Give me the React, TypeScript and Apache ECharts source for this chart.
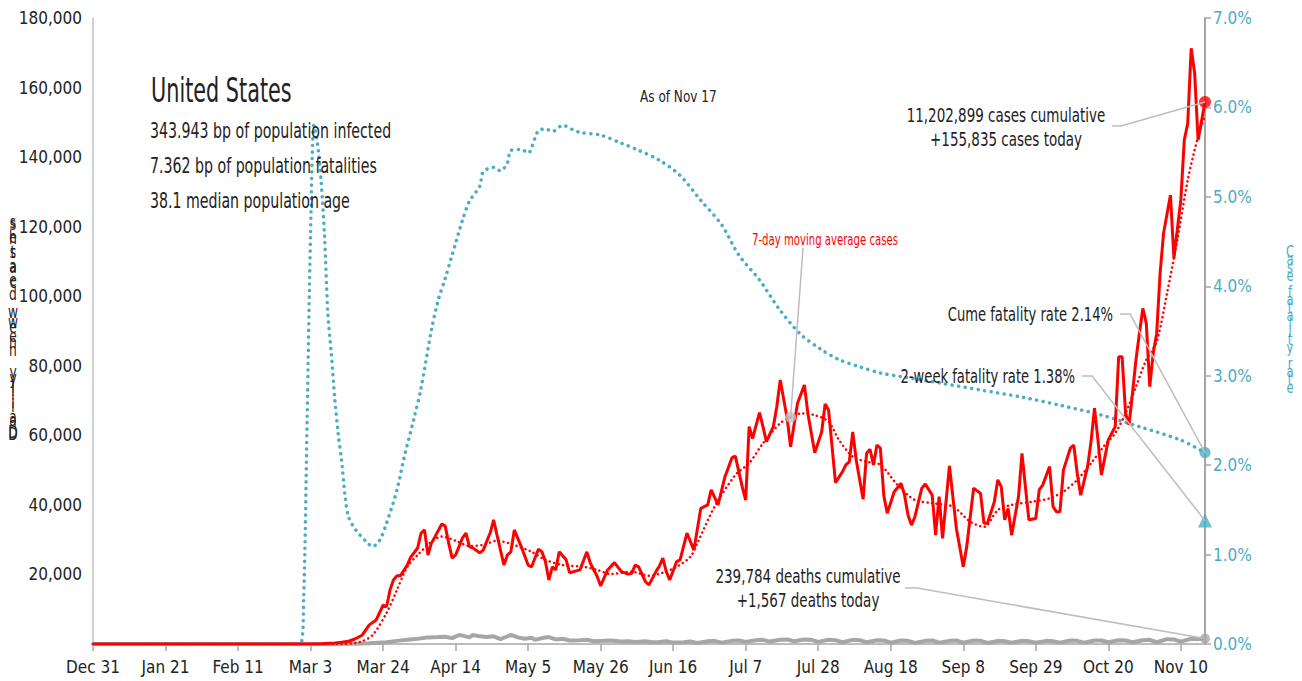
import { useEffect, useRef } from 'react';
import * as echarts from 'echarts';

const FONT = "'Liberation Sans Narrow','DejaVu Sans Condensed','Roboto Condensed','Liberation Sans',sans-serif";

const tickDays = [0, 21, 42, 63, 84, 105, 126, 147, 168, 189, 210, 231, 252, 273, 294, 315];
const tickLabels = ['Dec 31', 'Jan 21', 'Feb 11', 'Mar 3', 'Mar 24', 'Apr 14', 'May 5', 'May 26', 'Jun 16', 'Jul 7', 'Jul 28', 'Aug 18', 'Sep 8', 'Sep 29', 'Oct 20', 'Nov 10'];

// days since Dec 31 -> daily new cases
const caseDays = [0, 60, 66, 70, 72, 74, 76, 78, 80, 82, 84, 85, 86, 87, 88, 89, 91, 92, 94, 95, 96, 97, 98, 99, 101, 102, 103, 104, 105, 107, 108, 109, 110, 112, 113, 115, 116, 117, 119, 120, 121, 122, 124, 126, 127, 129, 130, 131, 132, 133, 134, 135, 137, 138, 141, 143, 144, 146, 147, 149, 151, 153, 155, 156, 157, 158, 160, 161, 163, 164, 165, 166, 167, 169, 170, 172, 174, 176, 178, 179, 181, 183, 185, 186, 188, 189, 190, 191, 193, 194, 195, 197, 198, 199, 201, 202, 204, 206, 207, 209, 211, 212, 213, 215, 217, 218, 219, 220, 221, 223, 224, 225, 226, 227, 228, 229, 230, 232, 234, 235, 236, 237, 238, 240, 241, 243, 244, 245, 246, 248, 250, 252, 253, 255, 257, 258, 259, 261, 262, 263, 264, 265, 266, 268, 269, 270, 271, 273, 274, 275, 277, 278, 279, 280, 281, 283, 284, 285, 286, 288, 289, 290, 291, 292, 294, 295, 296, 297, 298, 299, 300, 301, 302, 303, 304, 305, 306, 307, 308, 309, 310, 312, 313, 315, 316, 317, 318, 319, 320, 322];
const caseValues = [0, 0, 100, 300, 500, 800, 1500, 2600, 5500, 6900, 11200, 10700, 15500, 18400, 19600, 19600, 22700, 25000, 27600, 31900, 32800, 25600, 29000, 30800, 34500, 33900, 29000, 24700, 25600, 30500, 31900, 28000, 27600, 26200, 27000, 31900, 35700, 31300, 22700, 25600, 26500, 32800, 28000, 22700, 22200, 27300, 26500, 23700, 18400, 22200, 21300, 26500, 24200, 20500, 21300, 26500, 23300, 19400, 16700, 21300, 23400, 20800, 20100, 20300, 22700, 22200, 17900, 17000, 20800, 22400, 24700, 20800, 18400, 23700, 24200, 31900, 27000, 39000, 40000, 44300, 40000, 48100, 53500, 54000, 45200, 41400, 62500, 59100, 66500, 62500, 58200, 62500, 68200, 75900, 64900, 56700, 69200, 74500, 66300, 55000, 61000, 69000, 67300, 46400, 49500, 51500, 52400, 61000, 52900, 41600, 54800, 56000, 51500, 57200, 56300, 42600, 37600, 43800, 46200, 42800, 37100, 34200, 36600, 44800, 46000, 42800, 31300, 42400, 30400, 51200, 33300, 22200, 28000, 44800, 43300, 34700, 34700, 40900, 47200, 45200, 35700, 39000, 31300, 42400, 54800, 45200, 35700, 36100, 44300, 45700, 51000, 39500, 38000, 38000, 50000, 56300, 57200, 49100, 42800, 51000, 58200, 67800, 58700, 48600, 58700, 60600, 62500, 82600, 82600, 66300, 63000, 72100, 81700, 89300, 96500, 92200, 74000, 83600, 89300, 106600, 118100, 129100, 110900, 127700, 144900, 149700, 171300, 164100, 144900, 155835];

// 7-day moving average of cases
const maDays = [0, 72, 76, 78, 81, 85, 88, 91, 94, 98, 101, 105, 109, 113, 117, 121, 127, 131, 136, 142, 146, 150, 156, 161, 165, 169, 173, 175, 180, 186, 190, 194, 199, 202, 205, 209, 213, 216, 220, 224, 228, 233, 238, 243, 249, 254, 258, 262, 266, 272, 277, 281, 285, 289, 293, 296, 299, 302, 305, 308, 311, 314, 317, 320, 322];
const maValues = [0, 0, 300, 800, 2600, 8900, 15500, 22200, 25600, 29400, 30900, 29700, 28200, 28500, 29700, 28800, 26500, 24200, 22700, 22200, 21300, 20100, 20800, 19600, 20500, 22200, 25100, 29000, 39500, 48600, 52000, 57700, 63500, 65200, 66300, 65800, 63900, 58700, 53900, 52400, 51500, 45700, 41400, 40500, 39500, 35200, 33700, 38500, 40000, 40900, 41900, 43800, 47200, 52000, 57200, 60600, 66300, 74000, 81700, 86900, 100800, 116200, 133400, 145900, 152000];

// daily new deaths
const deathDays = [0, 65, 70, 75, 80, 85, 88, 91, 94, 97, 100, 102, 104, 106, 107, 109, 110, 112, 114, 116, 118, 119, 121, 123, 125, 127, 128, 130, 132, 134, 136, 138, 141, 143, 145, 148, 150, 153, 155, 157, 160, 162, 164, 166, 168, 171, 173, 175, 178, 180, 182, 185, 187, 189, 192, 194, 196, 199, 201, 203, 206, 208, 210, 213, 215, 217, 220, 222, 224, 227, 229, 231, 234, 236, 238, 241, 243, 245, 248, 250, 252, 255, 257, 259, 262, 264, 266, 269, 271, 273, 276, 278, 280, 283, 285, 287, 290, 292, 294, 297, 299, 301, 304, 306, 308, 311, 313, 315, 318, 320, 322];
const deathValues = [0, 0, 10, 50, 200, 500, 900, 1200, 1500, 1900, 2000, 2100, 1700, 2600, 2400, 1900, 2600, 2200, 2000, 2200, 1400, 1800, 2600, 1900, 1500, 1800, 1200, 1700, 2000, 1300, 1500, 1000, 1100, 1200, 800, 900, 1000, 700, 800, 600, 800, 500, 600, 800, 400, 500, 700, 300, 800, 900, 400, 900, 1000, 600, 1100, 1200, 700, 1200, 1300, 800, 1300, 1200, 600, 1200, 1100, 500, 1200, 1100, 500, 1100, 1000, 400, 1000, 900, 300, 900, 1000, 400, 900, 1000, 400, 1000, 900, 300, 900, 800, 400, 900, 800, 400, 900, 800, 400, 1000, 900, 400, 1000, 1000, 500, 1100, 1000, 500, 1100, 1200, 500, 1400, 1300, 700, 1500, 1400, 1567];

// cumulative case fatality rate, %
const cfrDays = [0, 60, 61, 62, 63, 64, 65, 66, 67, 68, 69, 70, 71, 72, 73, 74, 76, 79, 81, 83, 85, 88, 90, 93, 95, 98, 100, 102, 104, 107, 109, 112, 113, 116, 118, 120, 121, 124, 126, 128, 129, 131, 133, 136, 139, 141, 147, 153, 158, 164, 170, 176, 182, 187, 193, 199, 205, 211, 216, 222, 228, 234, 245, 257, 269, 280, 292, 303, 315, 322];
const cfrValues = [0, 0, 0.5, 2.5, 4.6, 5.8, 5.6, 5.2, 4.6, 3.7, 3.25, 2.75, 2.35, 2.05, 1.65, 1.42, 1.28, 1.15, 1.09, 1.16, 1.35, 1.72, 2.07, 2.53, 2.86, 3.51, 3.85, 4.09, 4.35, 4.74, 4.95, 5.12, 5.28, 5.33, 5.29, 5.38, 5.52, 5.53, 5.49, 5.66, 5.74, 5.76, 5.73, 5.8, 5.75, 5.72, 5.69, 5.6, 5.52, 5.41, 5.24, 4.96, 4.69, 4.35, 4.07, 3.73, 3.46, 3.29, 3.18, 3.1, 3.03, 2.99, 2.92, 2.84, 2.76, 2.67, 2.56, 2.43, 2.28, 2.14];

const lastDay = 322;
const casesToday = 155835;
const deathsToday = 1567;
const cumeFatality = 2.14;
const twoWeekFatality = 1.38;
const maMarkDay = 202;
const maMarkValue = 65200;

const zip = (a: number[], b: number[]) => a.map((d, i) => [d, b[i]]);

export default function App() {
  const ref = useRef<HTMLDivElement>(null);
  useEffect(() => {
    const chart = echarts.init(ref.current!, null, { renderer: 'svg' });
    const option: any = {
      animation: false,
      grid: { left: 93, right: 97, top: 18, bottom: 37, containLabel: false },
      xAxis: {
        type: 'value', min: 0, max: lastDay,
        axisLine: { show: true, lineStyle: { color: '#a6a6a6', width: 1.5 } },
        axisTick: { show: true, customValues: tickDays, length: 7, lineStyle: { color: '#a6a6a6', width: 1.5 } },
        axisLabel: {
          customValues: tickDays, color: '#222', fontSize: 17, fontFamily: FONT, margin: 14,
          formatter: (v: number) => tickLabels[Math.round(v / 21)] ?? '',
        },
        splitLine: { show: false },
      },
      yAxis: [
        {
          type: 'value', min: 0, max: 180000, interval: 20000,
          axisLine: { show: true, lineStyle: { color: '#c0c0c0', width: 1.5 } },
          axisTick: { show: false },
          splitLine: { show: false },
          axisLabel: {
            color: '#222', fontSize: 17, fontFamily: FONT, margin: 11,
            formatter: (v: number) => (v === 0 ? '' : v.toLocaleString('en-US')),
          },
        },
        {
          type: 'value', min: 0, max: 7, interval: 1, position: 'right',
          axisLine: { show: true, lineStyle: { color: '#a6a6a6', width: 2 } },
          axisTick: { show: true, length: 6, lineStyle: { color: '#a6a6a6', width: 1.5 } },
          splitLine: { show: false },
          axisLabel: {
            color: '#4bacc6', fontSize: 17, fontFamily: FONT, margin: 8,
            formatter: (v: number) => v.toFixed(1) + '%',
          },
        },
      ],
      series: [
        {
          type: 'line', name: 'deaths', data: zip(deathDays, deathValues), showSymbol: false,
          lineStyle: { color: '#a6a6a6', width: 4 }, z: 2,
        },
        {
          type: 'line', name: 'cfr', yAxisIndex: 1, data: zip(cfrDays, cfrValues), showSymbol: false, smooth: 0.3,
          lineStyle: { color: '#4bacc6', width: 3.5, type: [0.1, 6.5], cap: 'round' }, z: 3,
        },
        {
          type: 'line', name: 'ma', data: zip(maDays, maValues), showSymbol: false, smooth: 0.3,
          lineStyle: { color: '#ff0000', width: 2.5, type: [0.1, 4.5], cap: 'round' }, z: 4,
        },
        {
          type: 'line', name: 'cases', data: zip(caseDays, caseValues), showSymbol: false,
          lineStyle: { color: '#ff0000', width: 3 }, z: 5,
        },
        { type: 'scatter', data: [[lastDay, casesToday]], symbolSize: 12, itemStyle: { color: '#ff0000' }, z: 6 },
        { type: 'scatter', data: [[lastDay, deathsToday]], symbolSize: 10, itemStyle: { color: '#a6a6a6' }, z: 6 },
        { type: 'scatter', data: [[maMarkDay, maMarkValue]], symbolSize: 11, itemStyle: { color: '#c0c0c0' }, z: 6 },
        { type: 'scatter', yAxisIndex: 1, data: [[lastDay, cumeFatality]], symbolSize: 11, itemStyle: { color: '#4bacc6' }, z: 6 },
        { type: 'scatter', yAxisIndex: 1, data: [[lastDay, twoWeekFatality]], symbol: 'triangle', symbolSize: 14, itemStyle: { color: '#4bacc6' }, z: 6 },
      ],
    };
    chart.setOption(option);

    const p0 = (x: number, y: number) => chart.convertToPixel({ xAxisIndex: 0, yAxisIndex: 0 } as any, [x, y]) as number[];
    const p1 = (x: number, y: number) => chart.convertToPixel({ xAxisIndex: 0, yAxisIndex: 1 } as any, [x, y]) as number[];

    const lineStyle = { stroke: '#bdbdbd', lineWidth: 1.5, fill: null };
    const txt = (text: string, x: number, y: number, size: number, sx: number, align = 'left', fill = '#222') => ({
      type: 'text', x, y, scaleX: sx, silent: true, z: 20,
      style: { text, x: 0, y: 0, font: `${size}px ${FONT}`, fill, align, verticalAlign: 'middle', textAlign: align, textVerticalAlign: 'middle' },
    });

    const leftTitleA = 'Daily new cases'.split('').reverse().join('\n');
    const leftTitleB = 'Daily new deaths'.split('').reverse().join('\n');
    const rightTitle = 'Case fatality rate'.split('').join('\n');

    chart.setOption({
      graphic: [
        txt('United States', 151, 91, 33, 0.7),
        txt('343.943 bp of population infected', 150, 131, 21, 0.75),
        txt('7.362 bp of population fatalities', 150, 166, 21, 0.75),
        txt('38.1 median population age', 150, 201, 21, 0.75),
        txt('As of Nov 17', 640, 96, 16, 0.84),
        txt('7-day moving average cases', 752, 240, 15, 0.75, 'left', '#ff0000'),
        txt('11,202,899 cases cumulative', 1006, 115, 20, 0.75, 'center'),
        txt('+155,835 cases today', 1006, 139, 20, 0.75, 'center'),
        txt('Cume fatality rate 2.14%', 1113, 314, 20, 0.73, 'right'),
        txt('2-week fatality rate 1.38%', 1075, 376, 20, 0.73, 'right'),
        txt('239,784 deaths cumulative', 808, 576, 20, 0.75, 'center'),
        txt('+1,567 deaths today', 808, 600, 20, 0.75, 'center'),
        {
          type: 'text', x: 13, y: 215, scaleX: 0.8, silent: true,
          style: { text: leftTitleA, font: `17px ${FONT}`, lineHeight: 15, fill: '#222', align: 'center', textAlign: 'center', verticalAlign: 'top', textVerticalAlign: 'top' },
        },
        {
          type: 'text', x: 13, y: 217, scaleX: 0.8, silent: true,
          style: { text: leftTitleB, font: `17px ${FONT}`, lineHeight: 14, fill: '#222', align: 'center', textAlign: 'center', verticalAlign: 'top', textVerticalAlign: 'top' },
        },
        {
          type: 'text', x: 1290, y: 247, scaleX: 0.8, silent: true,
          style: { text: rightTitle, font: `16px ${FONT}`, lineHeight: 8, fill: '#4bacc6', align: 'center', textAlign: 'center', verticalAlign: 'top', textVerticalAlign: 'top' },
        },
        { type: 'polyline', silent: true, z: 19, shape: { points: [[1112, 126], [1121, 126], p0(lastDay, casesToday)] }, style: lineStyle },
        { type: 'polyline', silent: true, z: 19, shape: { points: [[1120, 314], [1130, 314], p1(lastDay, cumeFatality)] }, style: lineStyle },
        { type: 'polyline', silent: true, z: 19, shape: { points: [[1082, 376], [1092, 376], p1(lastDay, twoWeekFatality)] }, style: lineStyle },
        { type: 'polyline', silent: true, z: 19, shape: { points: [[905, 588], [917, 588], p0(lastDay, deathsToday)] }, style: lineStyle },
        { type: 'polyline', silent: true, z: 19, shape: { points: [[803, 248], p0(maMarkDay, maMarkValue)] }, style: lineStyle },
      ],
    });

    return () => chart.dispose();
  }, []);
  return <div ref={ref} style={{ position: 'absolute', left: 0, top: 0, width: 1302, height: 681 }} />;
}
